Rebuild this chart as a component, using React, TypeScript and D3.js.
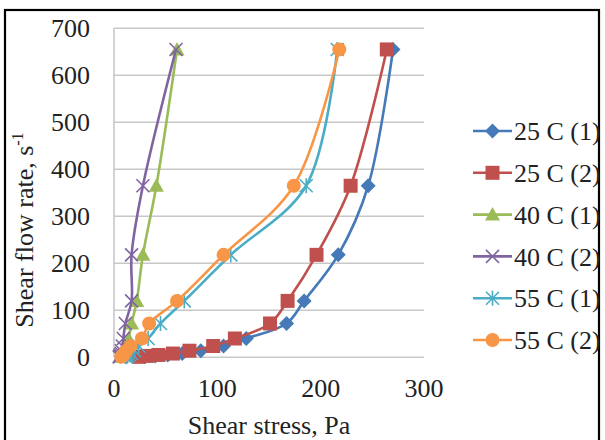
import React from 'react';
import * as d3 from 'd3';

// shear rate levels (s^-1), shared by every run
const shearRate = [655, 365, 218, 120, 72, 40, 24, 14, 8, 5, 3, 1];

// shear stress (Pa), one array per run
const stress25c1 = [270, 246, 217, 184, 167, 128, 106, 84, 66, 52, 40, 30];
const stress25c2 = [264, 229, 196, 168, 151, 117, 96, 73, 57, 43, 32, 24];
const stress40c1 = [61, 41, 28, 22, 17, 14, 12, 10, 9, 8, 7, 6];
const stress40c2 = [60, 28, 17, 17, 11, 9, 8, 7, 7, 6, 6, 5];
const stress55c1 = [216, 186, 113, 68, 45, 33, 24, 20, 17, 15, 13, 12];
const stress55c2 = [218, 174, 106, 61, 34, 27, 16, 12, 10, 9, 8, 7];

const seriesNames = ['25 C (1)', '25 C (2)', '40 C (1)', '40 C (2)', '55 C (1)', '55 C (2)'];
const seriesStress = [stress25c1, stress25c2, stress40c1, stress40c2, stress55c1, stress55c2];
const seriesColors = ['#4579b8', '#c0504d', '#9bbb59', '#8064a2', '#4bacc6', '#f79646'];
const seriesMarkers = ['diamond', 'square', 'triangle', 'x', 'star', 'circle'];

const xTicks = [0, 100, 200, 300];
const yTicks = [0, 100, 200, 300, 400, 500, 600, 700];

const W = 605;
const H = 440;
const plot = { left: 114, right: 424, top: 28.3, bottom: 357.3 };
const font = '"Liberation Serif", "Times New Roman", serif';
const fs = 26;

function Marker({ kind, x, y, color }: { kind: string; x: number; y: number; color: string }) {
  if (kind === 'diamond') {
    const r = 7.5;
    return <path d={`M${x},${y - r}L${x + r},${y}L${x},${y + r}L${x - r},${y}Z`} fill={color} />;
  }
  if (kind === 'square') {
    return <rect x={x - 7} y={y - 7} width={14} height={14} fill={color} />;
  }
  if (kind === 'triangle') {
    return <path d={`M${x},${y - 7.5}L${x + 7.5},${y + 6}L${x - 7.5},${y + 6}Z`} fill={color} />;
  }
  if (kind === 'circle') {
    return <circle cx={x} cy={y} r={7} fill={color} />;
  }
  const r = 6.5;
  const lines = [
    [x - r, y - r, x + r, y + r],
    [x - r, y + r, x + r, y - r],
  ];
  if (kind === 'star') lines.push([x, y - r - 1, x, y + r + 1]);
  return (
    <g stroke={color} strokeWidth={1.6}>
      {lines.map((l, i) => (
        <line key={i} x1={l[0]} y1={l[1]} x2={l[2]} y2={l[3]} />
      ))}
    </g>
  );
}

export default function App() {
  const x = d3.scaleLinear().domain([0, 300]).range([plot.left, plot.right]);
  const y = d3.scaleLinear().domain([0, 700]).range([plot.bottom, plot.top]);

  const line = d3
    .line<[number, number]>()
    .x((d) => x(d[0]))
    .y((d) => y(d[1]))
    .curve(d3.curveCatmullRom.alpha(0.5));

  const legendTop = 131;
  const legendStep = 41.8;

  return (
    <svg
      width={W}
      height={H}
      style={{ position: 'absolute', left: 0, top: 0, background: '#fff' }}
      fontFamily={font}
    >
      <rect x={5} y={10} width={594} height={440} fill="#fff" stroke="#000" strokeWidth={2.2} />

      {/* grid */}
      {yTicks.map((t) => (
        <line key={t} x1={plot.left} x2={plot.right} y1={y(t)} y2={y(t)} stroke="#c8c8c8" strokeWidth={1.6} />
      ))}
      <line x1={plot.left} x2={plot.left} y1={plot.top} y2={plot.bottom} stroke="#c8c8c8" strokeWidth={1.6} />

      {/* tick labels */}
      {yTicks.map((t) => (
        <text key={t} x={90} y={y(t)} dy="0.35em" textAnchor="end" fontSize={fs} fill="#222">
          {t}
        </text>
      ))}
      {xTicks.map((t) => (
        <text key={t} x={x(t)} y={397} textAnchor="middle" fontSize={fs} fill="#222">
          {t}
        </text>
      ))}

      {/* axis titles */}
      <text x={269} y={434} textAnchor="middle" fontSize={fs} fill="#222">
        Shear stress, Pa
      </text>
      <text transform="translate(33,230) rotate(-90)" textAnchor="middle" fontSize={fs} fill="#222">
        Shear flow rate, s
        <tspan fontSize={16} dy={-10}>
          -1
        </tspan>
      </text>

      {/* series */}
      {seriesStress.map((stress, i) => {
        const pts = stress.map((s, j) => [s, shearRate[j]] as [number, number]);
        return (
          <g key={seriesNames[i]}>
            <path d={line(pts) || ''} fill="none" stroke={seriesColors[i]} strokeWidth={2.6} />
            {pts.map((p, j) => (
              <Marker key={j} kind={seriesMarkers[i]} x={x(p[0])} y={y(p[1])} color={seriesColors[i]} />
            ))}
          </g>
        );
      })}

      {/* legend */}
      {seriesNames.map((name, i) => {
        const ly = legendTop + i * legendStep;
        return (
          <g key={name}>
            <line x1={473} x2={512} y1={ly} y2={ly} stroke={seriesColors[i]} strokeWidth={2.6} />
            <Marker kind={seriesMarkers[i]} x={492.5} y={ly} color={seriesColors[i]} />
            <text x={514} y={ly} dy="0.35em" fontSize={fs} fill="#222">
              {name}
            </text>
          </g>
        );
      })}
    </svg>
  );
}
